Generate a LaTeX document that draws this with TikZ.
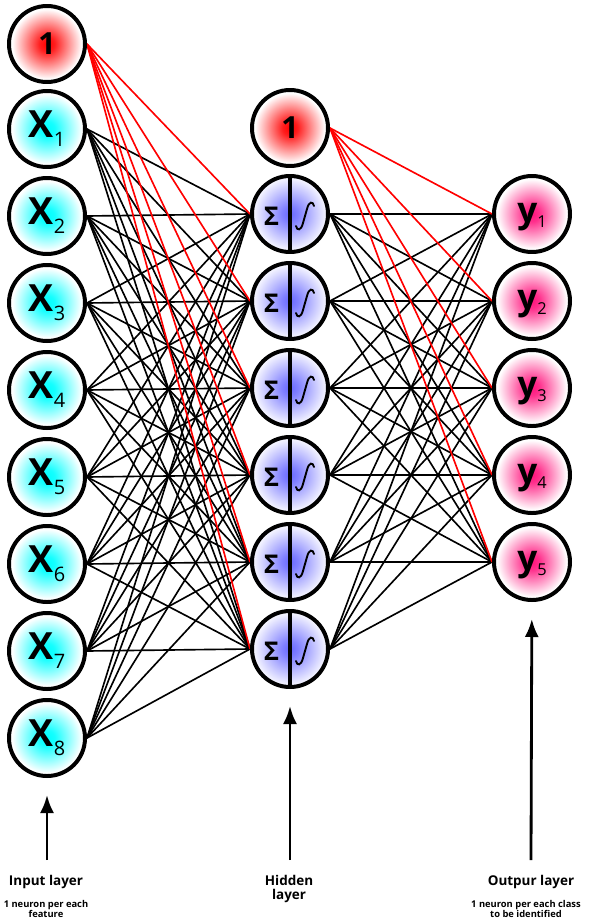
\documentclass[tikz,border=0pt]{standalone}
\usepackage{fontspec}
\setmainfont{Open Sans}
\usepackage{xcolor}
\usetikzlibrary{arrows.meta,backgrounds}

\definecolor{unitpink}{RGB}{255,20,125}
\definecolor{unitblue}{RGB}{105,105,255}
\pgfdeclareradialshading{glowcyan}{\pgfpoint{0cm}{0cm}}{color(0bp)=(cyan); color(5bp)=(cyan!92!white); color(23bp)=(white); color(50bp)=(white)}
\pgfdeclareradialshading{glowred}{\pgfpoint{0cm}{0cm}}{color(0bp)=(red); color(5bp)=(red!88!white); color(23bp)=(white); color(50bp)=(white)}
\pgfdeclareradialshading{glowblue}{\pgfpoint{0cm}{0cm}}{color(0bp)=(unitblue); color(5bp)=(unitblue!85!white); color(23.5bp)=(unitblue!8!white); color(50bp)=(unitblue!8!white)}
\pgfdeclareradialshading{glowpink}{\pgfpoint{0cm}{0cm}}{color(0bp)=(unitpink); color(5bp)=(unitpink!88!white); color(23bp)=(white); color(50bp)=(white)}

\newcommand{\inlbl}[1]{{\fontsize{32}{32}\selectfont\bfseries X}\raisebox{-7.5pt}{\fontsize{17}{17}\selectfont #1}}
\newcommand{\outlbl}[1]{{\fontsize{30}{30}\selectfont\bfseries y}\raisebox{-4pt}{\fontsize{14}{14}\selectfont #1}}

\begin{document}
\begin{tikzpicture}[x=0.03cm,y=-0.03cm,>=Latex,
  neuron/.style={circle,draw,line width=3.4pt,minimum size=2.28cm,inner sep=0pt},
  inunit/.style={neuron,shading=glowcyan},
  biasunit/.style={neuron,shading=glowred,font=\fontsize{26}{26}\selectfont\bfseries},
  hidunit/.style={neuron,shading=glowblue},
  outunit/.style={neuron,shading=glowpink,text height=16pt,text depth=1pt},
  wire/.style={line width=1.4pt},
  biaswire/.style={wire,red},
  divider/.style={line width=3pt},
  sigmoid/.style={line width=1.6pt,line cap=round},
  sigmatext/.style={inner sep=0pt,font=\fontsize{22}{22}\selectfont\bfseries},
  uparrow/.style={-{Latex[length=0.54cm,width=0.42cm]},line width=2.4pt,shorten >=0.51cm},
  layertitle/.style={font=\fontsize{11.5}{11.5}\selectfont\bfseries,align=center},
  layernote/.style={font=\fontsize{8}{7.5}\selectfont\bfseries,align=center}]
  \useasboundingbox (0,0) rectangle (592,920);

  % input layer
  \node[biasunit] (b0) at (47,44) {1};
  \foreach \i in {1,...,8}
    \node[inunit] (x\i) at (47,{129+87*(\i-1)}) {\inlbl{\i}};

  % hidden layer
  \node[biasunit] (b1) at (290,128) {1};
  \foreach \j in {1,...,6} {
    \node[hidunit] (h\j) at (290,{214+87*(\j-1)}) {};
    \draw[divider] (h\j.north) -- (h\j.south);
    \begin{scope}[shift={(h\j)}]
      \node[sigmatext] (s\j) at (-18.5,2) {Σ};
      \draw[sigmoid] (6,12) .. controls (7,17) and (11,17) .. (13,9)
        -- (17,-5) .. controls (19,-13) and (23,-13) .. (24,-8);
    \end{scope}
  }

  % output layer
  \foreach \k in {1,...,5}
    \node[outunit] (y\k) at (532,{214+87*(\k-1)}) {\outlbl{\k}};

  % weights
  \begin{scope}[on background layer]
    \foreach \j in {1,...,6}
      \foreach \i in {1,...,8}
        \draw[wire] (x\i.east) -- (h\j.west);
    \foreach \k in {1,...,5}
      \foreach \j in {1,...,6}
        \draw[wire] (h\j.east) -- (y\k.west);
    \foreach \j in {1,...,6}
      \draw[biaswire] (b0.east) -- (h\j.west);
    \foreach \k in {1,...,5}
      \draw[biaswire] (b1.east) -- (y\k.west);
  \end{scope}

  % captions
  \coordinate (ain) at (47,860);
  \coordinate (ahid) at (290,860);
  \coordinate (aout) at (531,860);
  \draw[uparrow] (ain) -- (x8);
  \draw[uparrow] (ahid) -- (h6);
  \draw[uparrow] (aout) -- (y5);
  \node[layertitle] (tin) at (46,882) {Input layer};
  \node[layernote] (nin) at (46,909) {1 neuron per each\\feature};
  \node[layertitle] (thid) at (289,889) {Hidden\\layer};
  \node[layertitle] (tout) at (531,882) {Outpur layer};
  \node[layernote] (nout) at (526,909) {1 neuron per each class\\to be identified};
\end{tikzpicture}
\end{document}
